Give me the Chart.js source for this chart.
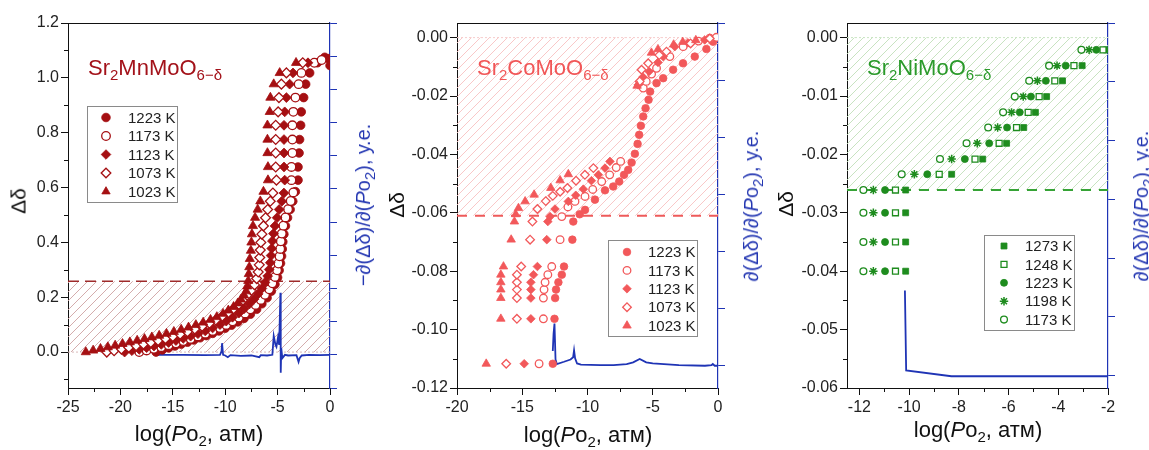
<!DOCTYPE html>
<html>
<head>
<meta charset="utf-8">
<script src="https://cdn.jsdelivr.net/npm/chart.js@4/dist/chart.umd.min.js"></script>
<style>
  body { margin:0; width:1149px; height:450px; background:#fff; position:relative; overflow:hidden;
         font-family: Arial, "Liberation Sans", sans-serif; }
  .panel { position:absolute; top:0; width:383px; height:450px; }
  .t { position:absolute; white-space:nowrap; line-height:1; }
  .sb { font-size:15px; position:relative; top:5px; }
  .rot { transform: translate(-50%, -50%) rotate(-90deg); }
  .cx { transform: translateX(-50%); }
</style>
</head>
<body>
<div class="panel" style="left:0"><canvas id="mn" width="383" height="450"></canvas></div>
<div class="panel" style="left:383px"><canvas id="co" width="383" height="450"></canvas></div>
<div class="panel" style="left:766px"><canvas id="ni" width="383" height="450"></canvas></div>

<!-- panel titles -->
<div class="t" style="left:88px;top:57px;font-size:22px;color:#a3121a">Sr<span class="sb">2</span>MnMoO<span class="sb">6−δ</span></div>
<div class="t" style="left:477px;top:57px;font-size:22px;color:#f15657">Sr<span class="sb">2</span>CoMoO<span class="sb">6−δ</span></div>
<div class="t" style="left:867px;top:57px;font-size:22px;color:#2a9a2a">Sr<span class="sb">2</span>NiMoO<span class="sb">6−δ</span></div>

<!-- axis titles -->
<div class="t cx" style="left:199px;top:423px;font-size:22px;color:#111">log(<i>P</i>o<span class="sb">2</span>, атм)</div>
<div class="t cx" style="left:588px;top:424px;font-size:22px;color:#111">log(<i>P</i>o<span class="sb">2</span>, атм)</div>
<div class="t cx" style="left:978px;top:419px;font-size:22px;color:#111">log(<i>P</i>o<span class="sb">2</span>, атм)</div>

<div class="t rot" style="left:18px;top:201px;font-size:21px;color:#111">Δδ</div>
<div class="t rot" style="left:396px;top:205px;font-size:21px;color:#111">Δδ</div>
<div class="t rot" style="left:785px;top:204px;font-size:21px;color:#111">Δδ</div>

<div class="t rot" style="left:363px;top:205px;font-size:20px;color:#2437b2">−∂(Δδ)/∂(<i>P</i>o<span class="sb">2</span>), у.е.</div>
<div class="t rot" style="left:751px;top:206px;font-size:20px;color:#2437b2">∂(Δδ)/∂(<i>P</i>o<span class="sb">2</span>), у.е.</div>
<div class="t rot" style="left:1141px;top:206px;font-size:20px;color:#2437b2">∂(Δδ)/∂(<i>P</i>o<span class="sb">2</span>), у.е.</div>

<script>
// ---------------- Sr2MnMoO6-δ ----------------
const mnLog1223   = [-16.6,-16.0,-15.4,-14.8,-14.2,-13.6,-13.0,-12.4,-11.8,-11.2,-10.6,-10.0,-9.4,-8.8,-8.2,-7.6,-7.0,-6.5,-6.0,-5.6,-5.25,-5.0,-4.85,-4.72,-4.62,-4.55,-4.5,-4.4,-4.25,-4.05,-3.8,-3.55,-3.3,-3.05,-3.05,-2.95,-2.9,-2.8,-2.74,-2.51,-2.32,-1.94,-1.2,-0.5,-0.15,0.0];
const mnDelta1223 = [0.000,0.008,0.015,0.022,0.029,0.036,0.044,0.052,0.060,0.068,0.077,0.087,0.098,0.110,0.123,0.138,0.156,0.176,0.198,0.222,0.247,0.272,0.298,0.324,0.350,0.376,0.402,0.430,0.460,0.490,0.520,0.550,0.585,0.627,0.675,0.726,0.775,0.827,0.876,0.928,0.977,1.018,1.055,1.075,1.070,1.045];

const mnLog1173   = [-18.2,-17.5,-16.8,-16.1,-15.4,-14.7,-14.0,-13.3,-12.6,-11.9,-11.2,-10.5,-9.9,-9.3,-8.7,-8.1,-7.6,-7.1,-6.6,-6.2,-5.8,-5.5,-5.25,-5.05,-4.92,-4.82,-4.75,-4.7,-4.6,-4.45,-4.25,-4.0,-3.75,-3.5,-3.68,-3.68,-3.59,-3.59,-3.59,-3.5,-3.3,-2.99,-2.73,-1.5,-0.8];
const mnDelta1173 = [0.000,0.006,0.012,0.018,0.025,0.032,0.040,0.048,0.057,0.067,0.077,0.088,0.099,0.112,0.126,0.141,0.156,0.172,0.190,0.209,0.229,0.251,0.274,0.298,0.323,0.349,0.376,0.404,0.432,0.461,0.491,0.521,0.551,0.582,0.627,0.675,0.726,0.775,0.827,0.876,0.928,0.977,1.018,1.055,1.065];

const mnLog1123   = [-19.6,-18.9,-18.2,-17.5,-16.8,-16.1,-15.4,-14.7,-14.0,-13.3,-12.6,-11.9,-11.2,-10.5,-9.9,-9.3,-8.7,-8.2,-7.7,-7.25,-6.85,-6.5,-6.2,-5.95,-5.8,-5.7,-5.62,-5.56,-5.5,-5.4,-5.25,-5.05,-4.85,-4.6,-4.4,-4.32,-4.39,-4.39,-4.39,-4.39,-4.32,-4.16,-3.85,-3.53,-2.1];
const mnDelta1123 = [0.000,0.005,0.010,0.016,0.022,0.028,0.035,0.042,0.050,0.058,0.067,0.077,0.088,0.100,0.113,0.127,0.142,0.158,0.175,0.193,0.212,0.232,0.254,0.277,0.301,0.326,0.352,0.378,0.405,0.432,0.460,0.490,0.520,0.550,0.580,0.627,0.675,0.726,0.775,0.827,0.876,0.928,0.977,1.018,1.055];

const mnLog1073   = [-21.3,-20.6,-19.9,-19.2,-18.5,-17.8,-17.1,-16.4,-15.7,-15.0,-14.3,-13.6,-12.9,-12.2,-11.5,-10.9,-10.3,-9.7,-9.2,-8.7,-8.3,-7.9,-7.5,-7.2,-7.0,-6.85,-6.75,-6.7,-6.65,-6.6,-6.5,-6.35,-6.15,-5.95,-5.7,-5.45,-5.11,-5.18,-5.18,-5.18,-5.18,-4.95,-4.87,-4.64,-4.16,-2.6];
const mnDelta1073 = [0.000,0.005,0.011,0.017,0.023,0.029,0.035,0.042,0.049,0.057,0.065,0.074,0.084,0.094,0.105,0.117,0.130,0.144,0.158,0.174,0.190,0.207,0.225,0.245,0.268,0.292,0.318,0.345,0.372,0.400,0.430,0.460,0.490,0.520,0.550,0.580,0.627,0.675,0.726,0.775,0.827,0.876,0.928,0.977,1.018,1.055];

const mnLog1023   = [-23.3,-22.6,-21.9,-21.2,-20.5,-19.8,-19.1,-18.4,-17.7,-17.0,-16.3,-15.6,-14.9,-14.2,-13.5,-12.8,-12.1,-11.4,-10.8,-10.2,-9.7,-9.2,-8.8,-8.5,-8.2,-8.0,-7.9,-7.8,-7.75,-7.7,-7.65,-7.55,-7.5,-7.45,-7.35,-7.15,-6.9,-6.65,-6.35,-5.92,-5.92,-5.97,-5.97,-5.97,-5.75,-5.69,-5.37,-4.8,-3.24];
const mnDelta1023 = [0.000,0.006,0.012,0.018,0.024,0.030,0.036,0.042,0.048,0.054,0.060,0.067,0.074,0.082,0.090,0.099,0.108,0.118,0.128,0.140,0.152,0.165,0.178,0.192,0.207,0.222,0.240,0.260,0.285,0.310,0.340,0.370,0.400,0.430,0.460,0.490,0.520,0.550,0.585,0.627,0.675,0.726,0.775,0.827,0.876,0.928,0.977,1.018,1.055];

const mnRateLog = [-16.56,-14,-12,-10.5,-10.35,-10.3,-10.2,-10.0,-9.75,-9.5,-8.5,-7.5,-6.75,-6.6,-6,-5.5,-5.37,-5.2,-5.11,-4.96,-4.85,-4.73,-4.7,-4.65,-4.55,-4.3,-4,-3.2,-3.0,-2.9,-2.7,-2,-1,0];
const mnRate    = [1.0,1.0,0.99,1.0,1.1,1.35,1.0,0.98,0.93,0.99,0.97,0.98,0.93,0.99,0.98,1.0,1.57,1.3,1.24,1.53,1.3,2.87,0.46,1.2,0.9,1.0,0.98,0.99,0.79,0.9,0.98,1.0,0.99,1.0];

const mnLogTicks   = [-25,-20,-15,-10,-5,0];
const mnDeltaTicks = [0,0.2,0.4,0.6,0.8,1.0,1.2];
const mnRateTicks  = [0,1,2,3,4,5,6,7,8,9,10,11];
const mnBoundary   = 0.258;

// ---------------- Sr2CoMoO6-δ ----------------
const coLog1223   = [-12.66,-12.53,-12.48,-12.41,-12.23,-11.97,-11.8,-11.16,-11.09,-10.6,-10.19,-9.43,-8.66,-8.03,-7.57,-7.2,-6.88,-6.62,-6.37,-6.16,-6.04,-5.91,-5.73,-5.55,-5.32,-5.2,-4.71,-4.2,-3.44,-2.68,-1.78,-0.89,-0.38];
const coDelta1223 = [-0.1117,-0.0963,-0.0892,-0.0863,-0.0838,-0.0812,-0.0784,-0.0692,-0.0630,-0.0605,-0.0590,-0.0555,-0.0523,-0.0510,-0.0493,-0.0470,-0.0453,-0.0428,-0.0398,-0.0364,-0.0333,-0.0302,-0.0270,-0.0242,-0.0213,-0.0185,-0.0156,-0.0139,-0.0110,-0.0088,-0.0065,-0.0039,-0.0014];

const coLog1173   = [-13.71,-13.38,-13.38,-13.33,-13.25,-13.04,-12.74,-12.1,-11.97,-11.5,-10.96,-10.19,-9.6,-8.91,-8.3,-7.8,-7.46,-5.73,-5.5,-5.09,-4.71,-3.69,-2.67,-1.5,-0.63,-0.12];
const coDelta1173 = [-0.1117,-0.0963,-0.0892,-0.0863,-0.0838,-0.0812,-0.0784,-0.0692,-0.0613,-0.0580,-0.0561,-0.0544,-0.0520,-0.0493,-0.0470,-0.0445,-0.0424,-0.0173,-0.0150,-0.0125,-0.0105,-0.0065,-0.0031,-0.0012,-0.0002,0.0001];

const coLog1123   = [-14.85,-14.34,-14.34,-14.34,-14.34,-14.14,-13.84,-13.12,-13.04,-12.87,-12.49,-11.47,-10.9,-10.32,-9.7,-9.17,-8.66,-8.28,-6.11,-5.75,-5.28,-4.6,-4.2,-3.31,-2.3,-1.02];
const coDelta1123 = [-0.1117,-0.0963,-0.0892,-0.0863,-0.0838,-0.0812,-0.0784,-0.0692,-0.0630,-0.0613,-0.0587,-0.0561,-0.0540,-0.0519,-0.0490,-0.0470,-0.0447,-0.0424,-0.0162,-0.0135,-0.0116,-0.0085,-0.0065,-0.0031,-0.0018,-0.0008];

const coLog1073   = [-16.23,-15.41,-15.41,-15.41,-15.41,-15.41,-15.08,-14.4,-14.22,-13.84,-13.2,-12.66,-12.1,-11.54,-10.88,-10.2,-9.55,-6.0,-5.86,-5.35,-4.5,-3.95,-2.1,-0.63];
const coDelta1073 = [-0.1117,-0.0963,-0.0892,-0.0863,-0.0838,-0.0812,-0.0784,-0.0692,-0.0630,-0.0587,-0.0560,-0.0542,-0.0528,-0.0515,-0.0490,-0.0470,-0.0447,-0.0150,-0.0110,-0.0088,-0.0060,-0.0048,-0.0020,-0.0003];

const coLog1023   = [-17.76,-16.64,-16.64,-16.64,-16.64,-16.64,-16.44,-15.85,-15.6,-15.5,-15.29,-14.78,-14.09,-12.81,-12.1,-11.47,-6.2,-5.1,-4.6,-3.4,-2.7,-1.7];
const coDelta1023 = [-0.1117,-0.0963,-0.0892,-0.0863,-0.0838,-0.0812,-0.0784,-0.0692,-0.0630,-0.0605,-0.0584,-0.0561,-0.0538,-0.0515,-0.0489,-0.0468,-0.0165,-0.0052,-0.0040,-0.0024,-0.0015,-0.0009];

const coRateLog = [-12.66,-12.6,-12.53,-12.45,-12.35,-11.8,-11.3,-11.1,-11.03,-10.95,-10.8,-10.5,-9,-8,-7,-6.5,-6.0,-5.5,-5,-3,-1,-0.5,-0.4,-0.25,0];
const coRate    = [0.25,0.55,0.73,0.1,0.02,0.06,0.1,0.14,0.26,0.12,0.03,0.01,0.0,0.0,0.02,0.05,0.11,0.05,0.03,0.0,-0.01,0.0,0.02,-0.01,-0.01];

const coLogTicks   = [-20,-15,-10,-5,0];
const coDeltaTicks = [-0.12,-0.10,-0.08,-0.06,-0.04,-0.02,0];
const coRateTicks  = [0,1,2,3,4,5,6];
const coBoundary   = -0.061;

// ---------------- Sr2NiMoO6-δ ----------------
const niDeltaRows = [-0.0021,-0.0048,-0.0074,-0.0101,-0.0128,-0.0154,-0.0181,-0.0208,-0.0234,-0.0261,-0.0300,-0.0350,-0.0400];
const niLog1273 = [-2.06,-3.04,-3.83,-4.47,-4.92,-5.39,-6.08,-7.04,-8.29,-10.14,-10.14,-10.14,-10.14];
const niLog1248 = [-2.2,-3.37,-4.14,-4.77,-5.21,-5.68,-6.38,-7.35,-8.79,-10.55,-10.55,-10.55,-10.55];
const niLog1223 = [-2.47,-3.7,-4.5,-5.1,-5.55,-6.06,-6.78,-7.76,-9.27,-10.97,-10.97,-10.97,-10.97];
const niLog1198 = [-2.76,-4.05,-4.84,-5.41,-5.88,-6.44,-7.26,-8.29,-9.79,-11.44,-11.44,-11.44,-11.44];
const niLog1173 = [-3.07,-4.37,-5.17,-5.75,-6.22,-6.82,-7.69,-8.76,-10.3,-11.84,-11.84,-11.84,-11.84];

const niRateLog = [-10.17,-10.12,-8.3,-6,-4,-2];
const niRate    = [1.45,0.09,-0.01,-0.01,-0.01,-0.01];

const niLogTicks   = [-12,-10,-8,-6,-4,-2];
const niDeltaTicks = [-0.06,-0.05,-0.04,-0.03,-0.02,-0.01,0];
const niRateTicks  = [0,1,2,3,4,5,6];
const niBoundary   = -0.0261;

// ---------------- helpers ----------------
Chart.defaults.font.family = 'Arial, "Liberation Sans", sans-serif';
Chart.defaults.font.size = 16;
Chart.defaults.color = '#222';

const BLUE = '#1f34b5';

function pts(xs, ys) {
  const n = Math.min(xs.length, ys.length), out = [];
  for (let i = 0; i < n; i++) out.push({ x: xs[i], y: ys[i] });
  return out;
}

function markers(label, xs, ys, style, color, filled, r, order, rank) {
  const bw = style === 'star' ? 1.5 : (filled ? 0.8 : 1.3);
  return {
    label, data: pts(xs, ys), showLine: false, order, legendRank: rank,
    pointStyle: style, pointRadius: r, pointHoverRadius: r, pointBorderWidth: bw,
    borderColor: color, backgroundColor: filled ? color : '#fff',
    pointBorderColor: color, pointBackgroundColor: filled ? color : '#fff',
    yAxisID: 'y'
  };
}

function hatchPattern(canvas, color) {
  const c = document.createElement('canvas');
  c.width = 9; c.height = 9;
  const g = c.getContext('2d');
  g.strokeStyle = color; g.lineWidth = 0.9;
  g.beginPath();
  g.moveTo(0, 9); g.lineTo(9, 0);
  g.moveTo(-1, 1); g.lineTo(1, -1);
  g.moveTo(8, 10); g.lineTo(10, 8);
  g.stroke();
  return canvas.getContext('2d').createPattern(c, 'repeat');
}

function boundarySets(canvas, xMin, xMax, level, dashColor, hatchColor, zeroColor, dashWidth, dash) {
  return [
    { label: 'boundary', data: [{ x: xMin, y: level }, { x: xMax, y: level }], order: 20, yAxisID: 'y',
      borderColor: dashColor, borderWidth: dashWidth, borderDash: dash, pointRadius: 0,
      fill: 'origin', backgroundColor: hatchPattern(canvas, hatchColor) },
    { label: 'zero', data: [{ x: xMin, y: 0 }, { x: xMax, y: 0 }], order: 21, yAxisID: 'y',
      borderColor: zeroColor, borderWidth: 1, borderDash: [2, 2], pointRadius: 0, fill: false }
  ];
}

function rateSet(xs, ys) {
  return { label: 'rate', data: pts(xs, ys), yAxisID: 'y2', order: 15,
           borderColor: BLUE, borderWidth: 1.8, pointRadius: 0, fill: false };
}

function minorValues(major, lo, hi) {
  const out = [];
  for (let i = 0; i + 1 < major.length; i++) out.push((major[i] + major[i + 1]) / 2);
  const step = major[1] - major[0];
  const first = major[0] - step / 2, last = major[major.length - 1] + step / 2;
  if (first >= lo - 1e-9) out.unshift(first);
  if (last <= hi + 1e-9) out.push(last);
  return out;
}

// frame top edge, minor ticks and the boxed legend
const framePlugin = {
  id: 'frame',
  afterDraw(chart, args, o) {
    const { ctx, chartArea: a, scales } = chart;
    ctx.save();
    ctx.strokeStyle = '#111';
    ctx.lineWidth = 1;
    ctx.beginPath();
    ctx.moveTo(a.left, a.top + 0.5);
    ctx.lineTo(a.right, a.top + 0.5);
    const xs = scales.x, ys = scales.y;
    for (const v of minorValues(o.xTicks, xs.min, xs.max)) {
      const p = Math.round(xs.getPixelForValue(v)) + 0.5;
      ctx.moveTo(p, a.bottom); ctx.lineTo(p, a.bottom + 4);
    }
    for (const v of minorValues(o.yTicks, ys.min, ys.max)) {
      const p = Math.round(ys.getPixelForValue(v)) + 0.5;
      ctx.moveTo(a.left, p); ctx.lineTo(a.left - 4, p);
    }
    ctx.stroke();

    const lg = o.legend;
    ctx.fillStyle = '#fff';
    ctx.fillRect(lg.x, lg.y, lg.w, lg.h);
    ctx.strokeStyle = '#8a8a8a';
    ctx.strokeRect(lg.x + 0.5, lg.y + 0.5, lg.w, lg.h);
    const items = chart.data.datasets.filter(d => d.legendRank).sort((p, q) => p.legendRank - q.legendRank);
    ctx.font = '15px Arial, "Liberation Sans", sans-serif';
    ctx.textBaseline = 'middle';
    items.forEach((d, i) => {
      const y = lg.row0 + i * lg.rowStep;
      const r = Math.min(d.pointRadius, lg.maxR);
      ctx.fillStyle = d.pointBackgroundColor;
      ctx.strokeStyle = d.pointBorderColor;
      ctx.lineWidth = d.pointBorderWidth;
      Chart.helpers.drawPoint(ctx, { pointStyle: d.pointStyle, radius: r,
                                     borderWidth: d.pointBorderWidth, rotation: 0 }, lg.markX, y);
      ctx.fillStyle = '#222';
      ctx.fillText(d.label, lg.textX, y + 1);
    });
    ctx.restore();
  }
};

function makeChart(id, p) {
  const canvas = document.getElementById(id);
  const fix = (list, lo, hi) => s => { s.ticks = list.map(v => ({ value: v })); s.min = lo; s.max = hi; };
  const grid = c => ({ drawOnChartArea: false, drawTicks: true, tickLength: 7, color: c, lineWidth: 1 });
  const datasets = p.series.concat([rateSet(p.rateX, p.rateY)],
    boundarySets(canvas, p.xMin, p.xMax, p.boundary, p.dashColor, p.hatchColor, p.zeroColor, p.dashWidth, p.dash));
  return new Chart(canvas, {
    type: 'line',
    data: { datasets },
    plugins: [framePlugin],
    options: {
      responsive: false, animation: false, devicePixelRatio: 1,
      events: [],
      layout: { padding: { top: 23, left: 0, right: 0, bottom: 0 } },
      plugins: {
        legend: { display: false }, tooltip: { enabled: false },
        frame: { xTicks: p.xTicks, yTicks: p.yTicks, legend: p.legend }
      },
      scales: {
        x: { type: 'linear', position: 'bottom', min: p.xMin, max: p.xMax, bounds: 'data',
             afterBuildTicks: fix(p.xTicks, p.xMin, p.xMax),
             afterFit: s => { s.height = 62; },
             grid: grid('#111'), border: { display: true, color: '#111', width: 1 },
             ticks: { autoSkip: false, maxRotation: 0, padding: 3, color: '#222', callback: v => String(v) } },
        y: { type: 'linear', position: 'left', min: p.yMin, max: p.yMax, bounds: 'data',
             afterBuildTicks: fix(p.yTicks, p.yMin, p.yMax),
             afterFit: s => { s.width = p.leftW; },
             grid: grid('#111'), border: { display: true, color: '#111', width: 1 },
             ticks: { autoSkip: false, padding: 2, color: '#222', callback: v => v.toFixed(p.yDigits) } },
        y2: { type: 'linear', position: 'right', min: p.y2Min, max: p.y2Max, bounds: 'data',
              afterBuildTicks: fix(p.y2Ticks, p.y2Min, p.y2Max),
              afterFit: s => { s.width = p.rightW; },
              grid: grid(BLUE), border: { display: true, color: BLUE, width: 1.2 },
              ticks: { display: false } }
      }
    }
  });
}

// ---------------- charts ----------------
const MN = '#a50f12';
makeChart('mn', {
  series: [
    markers('1223 K', mnLog1223, mnDelta1223, 'circle',   MN, true,  4.3, 5, 1),
    markers('1173 K', mnLog1173, mnDelta1173, 'circle',   MN, false, 4.3, 4, 2),
    markers('1123 K', mnLog1123, mnDelta1123, 'rectRot',  MN, true,  4.9, 3, 3),
    markers('1073 K', mnLog1073, mnDelta1073, 'rectRot',  MN, false, 4.9, 2, 4),
    markers('1023 K', mnLog1023, mnDelta1023, 'triangle', MN, true,  5.3, 1, 5)
  ],
  rateX: mnRateLog, rateY: mnRate,
  xMin: -25, xMax: 0, xTicks: mnLogTicks,
  yMin: -0.131, yMax: 1.2, yTicks: mnDeltaTicks, yDigits: 1,
  y2Min: 0, y2Max: 11, y2Ticks: mnRateTicks,
  leftW: 68, rightW: 53,
  boundary: mnBoundary, dashColor: '#9e2a2a', hatchColor: '#cfa3a3', zeroColor: '#d9b9b9', dashWidth: 1.6, dash: [11, 6],
  legend: { x: 87, y: 106, w: 90, h: 96, row0: 117.5, rowStep: 18.5, markX: 106, textX: 128, maxR: 4.8 }
});

const CO = '#f2585a';
makeChart('co', {
  series: [
    markers('1223 K', coLog1223, coDelta1223, 'circle',   CO, true,  3.8, 5, 1),
    markers('1173 K', coLog1173, coDelta1173, 'circle',   CO, false, 3.8, 4, 2),
    markers('1123 K', coLog1123, coDelta1123, 'rectRot',  CO, true,  4.3, 3, 3),
    markers('1073 K', coLog1073, coDelta1073, 'rectRot',  CO, false, 4.3, 2, 4),
    markers('1023 K', coLog1023, coDelta1023, 'triangle', CO, true,  4.9, 1, 5)
  ],
  rateX: coRateLog, rateY: coRate,
  xMin: -20, xMax: 0, xTicks: coLogTicks,
  yMin: -0.12, yMax: 0.005, yTicks: coDeltaTicks, yDigits: 2,
  y2Min: -0.4, y2Max: 6, y2Ticks: coRateTicks,
  leftW: 74, rightW: 48,
  boundary: coBoundary, dashColor: '#ee5a5a', hatchColor: '#f8c2c2', zeroColor: '#f7cccc', dashWidth: 2, dash: [10, 8],
  legend: { x: 225, y: 240, w: 89, h: 96, row0: 252, rowStep: 18.4, markX: 244, textX: 265, maxR: 5 }
});

const NI = '#1e8c1e';
makeChart('ni', {
  series: [
    markers('1273 K', niLog1273, niDeltaRows, 'rect',   NI, true,  4.2, 5, 1),
    markers('1248 K', niLog1248, niDeltaRows, 'rect',   NI, false, 4.2, 4, 2),
    markers('1223 K', niLog1223, niDeltaRows, 'circle', NI, true,  3.5, 3, 3),
    markers('1198 K', niLog1198, niDeltaRows, 'star',   NI, true,  4.2, 2, 4),
    markers('1173 K', niLog1173, niDeltaRows, 'circle', NI, false, 3.4, 1, 5)
  ],
  rateX: niRateLog, rateY: niRate,
  xMin: -12.5, xMax: -2, xTicks: niLogTicks,
  yMin: -0.06, yMax: 0.0025, yTicks: niDeltaTicks, yDigits: 2,
  y2Min: -0.21, y2Max: 6, y2Ticks: niRateTicks,
  leftW: 81, rightW: 41,
  boundary: niBoundary, dashColor: '#36a336', hatchColor: '#c2e0ba', zeroColor: '#c9e5c2', dashWidth: 2, dash: [10, 8],
  legend: { x: 218, y: 235, w: 90, h: 95, row0: 246, rowStep: 18.4, markX: 238, textX: 259, maxR: 5 }
});
</script>
</body>
</html>
